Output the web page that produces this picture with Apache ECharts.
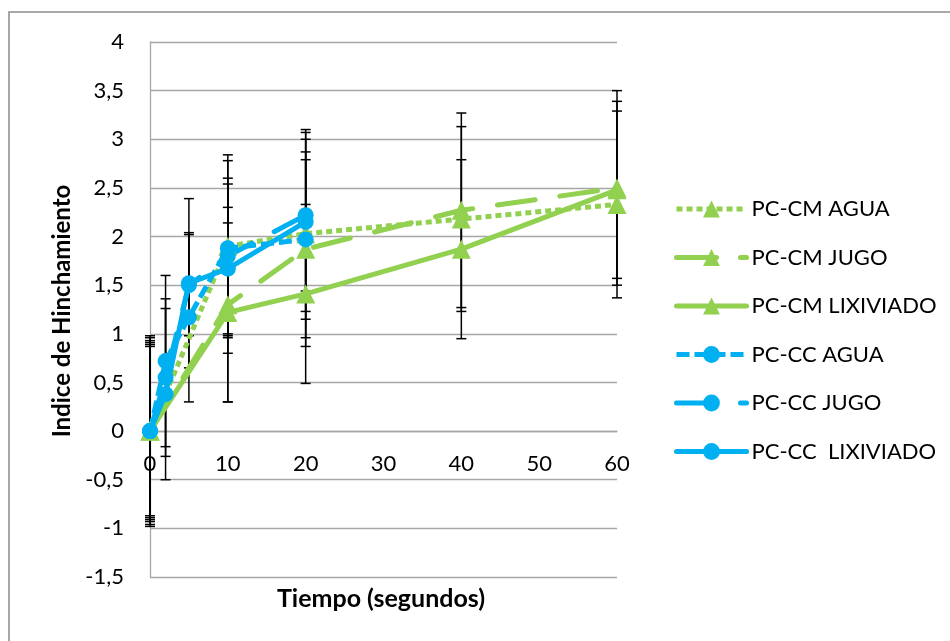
<!DOCTYPE html>
<html>
<head>
<meta charset="utf-8">
<title>Indice de Hinchamiento</title>
<script src="https://cdn.jsdelivr.net/npm/echarts@6/dist/echarts.min.js"></script>
<style>
  html, body { margin: 0; padding: 0; background: #fff; }
  #chart { width: 950px; height: 641px; }
</style>
</head>
<body>
<div id="chart"></div>
<script>
// Sampling times (s) for each material
const timesCM = [0, 10, 20, 40, 60];
const timesCC = [0, 2, 5, 10, 20];

// Swelling index, mean values
const cmAgua = [0, 1.9, 2.03, 2.18, 2.33];
const cmJugo = [0, 1.3, 1.87, 2.27, 2.5];
const cmLixiviado = [0, 1.22, 1.41, 1.87, 2.48];
const ccAgua = [0, 0.72, 1.17, 1.88, 1.97];
const ccJugo = [0, 0.55, 1.5, 1.8, 2.22];
const ccLixiviado = [0, 0.38, 1.52, 1.67, 2.15];

// Standard deviations (error bars)
const cmAguaErr = [0.93, 0.94, 1.07, 0.95, 0.96];
const cmJugoErr = [0.96, 1.0, 1.0, 1.0, 1.0];
const cmLixiviadoErr = [0.89, 0.92, 0.92, 0.92, 0.91];
const ccAguaErr = [0.98, 0.88, 0.87, 0.9, 0.82];
const ccJugoErr = [0.91, 0.81, 0.52, 0.8, 0.78];
const ccLixiviadoErr = [0.87, 0.88, 0.87, 0.87, 0.92];

const seriesNames = ['PC-CM AGUA', 'PC-CM JUGO', 'PC-CM LIXIVIADO',
                     'PC-CC AGUA', 'PC-CC JUGO', 'PC-CC  LIXIVIADO'];

// Value-axis ranges
const Y_MIN = -1.5, Y_MAX = 4, Y_STEP = 0.5;
const X_MIN = 0, X_MAX = 60, X_STEP = 10;

const GREEN = '#92D050';
const BLUE = '#00B0F0';
const FONT = 'Lato';

// Line dash patterns
const DOT = [6, 4];
const DASH = [13, 5];
const LONG_DASH = [38, 25];

// Plot box (pixels)
const GRID = { left: 150, right: 333, top: 42, bottom: 64 };
const CHART_H = 641;
// Shift the time axis up so it sits on the y = 0 line
const plotH = CHART_H - GRID.top - GRID.bottom;
const xAxisOffset = -plotH * (0 - Y_MIN) / (Y_MAX - Y_MIN);

function pairs(xs, ys) {
  return xs.map((x, i) => [x, ys[i]]);
}

function lineSeries(name, xs, ys, color, symbol, size, dash, cap) {
  return {
    name: name,
    type: 'line',
    data: pairs(xs, ys),
    symbol: symbol,
    symbolSize: size,
    showSymbol: true,
    itemStyle: { color: color },
    lineStyle: { color: color, width: 5, type: dash, cap: cap || 'butt' },
    z: 3,
    animation: false
  };
}

function errorSeries(name, xs, ys, es) {
  return {
    name: name + ' (desv.)',
    type: 'custom',
    silent: true,
    z: 2,
    animation: false,
    data: xs.map((x, i) => [x, ys[i] - es[i], ys[i] + es[i]]),
    encode: { x: 0, y: [1, 2] },
    renderItem: function (params, api) {
      const lo = api.coord([api.value(0), api.value(1)]);
      const hi = api.coord([api.value(0), api.value(2)]);
      const w = 5;
      const st = { stroke: '#000', lineWidth: 1.5 };
      return {
        type: 'group',
        children: [
          { type: 'line', shape: { x1: lo[0], y1: lo[1], x2: hi[0], y2: hi[1] }, style: st },
          { type: 'line', shape: { x1: lo[0] - w, y1: lo[1], x2: lo[0] + w, y2: lo[1] }, style: st },
          { type: 'line', shape: { x1: hi[0] - w, y1: hi[1], x2: hi[0] + w, y2: hi[1] }, style: st }
        ]
      };
    }
  };
}

// Legend entries; the long-dash ones get an explicit pattern so the icon
// shows a full dash, a gap and the start of the next dash.
const legendData = seriesNames.map(function (name, i) {
  if (i === 1 || i === 4) {
    return { name: name, lineStyle: { type: [40, 24, 6, 200], cap: 'round' } };
  }
  return { name: name };
});

const chart = echarts.init(document.getElementById('chart'), null, { renderer: 'canvas' });

const option = {
  backgroundColor: '#fff',
  animation: false,
  grid: Object.assign({ containLabel: false }, GRID),
  xAxis: {
    type: 'value',
    min: X_MIN, max: X_MAX, interval: X_STEP,
    position: 'bottom',
    offset: xAxisOffset,
    axisLine: { show: true, onZero: false, lineStyle: { color: '#a6a6a6', width: 1.3 } },
    axisTick: { show: false },
    splitLine: { show: false },
    axisLabel: { color: '#000', fontFamily: FONT, fontSize: 22, margin: 22 }
  },
  yAxis: {
    type: 'value',
    min: Y_MIN, max: Y_MAX, interval: Y_STEP,
    axisLine: { show: true, onZero: false, lineStyle: { color: '#a6a6a6', width: 1.3 } },
    axisTick: { show: false },
    splitLine: { show: true, lineStyle: { color: '#a6a6a6', width: 1.3 } },
    axisLabel: {
      color: '#000', fontFamily: FONT, fontSize: 22, margin: 26,
      formatter: v => String(v).replace('.', ',')
    }
  },
  legend: {
    data: legendData,
    orient: 'vertical',
    left: 669, top: 193,
    itemWidth: 70, itemHeight: 21, itemGap: 26.5,
    lineStyle: { width: 5 },
    textStyle: { color: '#000', fontFamily: FONT, fontSize: 22 },
    selectedMode: false
  },
  graphic: [
    {
      type: 'rect', silent: true,
      shape: { x: 9, y: 12, width: 1000, height: 700 },
      style: { fill: 'none', stroke: '#8c8c8c', lineWidth: 1.5 }
    },
    {
      type: 'text', silent: true,
      x: 381, y: 599,
      style: { text: 'Tiempo (segundos)', fill: '#000', font: 'bold 25px Lato',
               textAlign: 'center', textVerticalAlign: 'middle' }
    },
    {
      type: 'text', silent: true,
      x: 62, y: 311, rotation: Math.PI / 2,
      style: { text: 'Indice de Hinchamiento', fill: '#000', font: 'bold 24px Lato',
               textAlign: 'center', textVerticalAlign: 'middle' }
    }
  ],
  series: [
    errorSeries(seriesNames[0], timesCM, cmAgua, cmAguaErr),
    errorSeries(seriesNames[1], timesCM, cmJugo, cmJugoErr),
    errorSeries(seriesNames[2], timesCM, cmLixiviado, cmLixiviadoErr),
    errorSeries(seriesNames[3], timesCC, ccAgua, ccAguaErr),
    errorSeries(seriesNames[4], timesCC, ccJugo, ccJugoErr),
    errorSeries(seriesNames[5], timesCC, ccLixiviado, ccLixiviadoErr),
    lineSeries(seriesNames[0], timesCM, cmAgua, GREEN, 'triangle', 19, DOT, 'butt'),
    lineSeries(seriesNames[1], timesCM, cmJugo, GREEN, 'triangle', 19, LONG_DASH, 'round'),
    lineSeries(seriesNames[2], timesCM, cmLixiviado, GREEN, 'triangle', 19, 'solid', 'round'),
    lineSeries(seriesNames[3], timesCC, ccAgua, BLUE, 'circle', 16, DASH, 'butt'),
    lineSeries(seriesNames[4], timesCC, ccJugo, BLUE, 'circle', 16, LONG_DASH, 'round'),
    lineSeries(seriesNames[5], timesCC, ccLixiviado, BLUE, 'circle', 16, 'solid', 'round')
  ]
};

chart.setOption(option);
</script>
</body>
</html>
